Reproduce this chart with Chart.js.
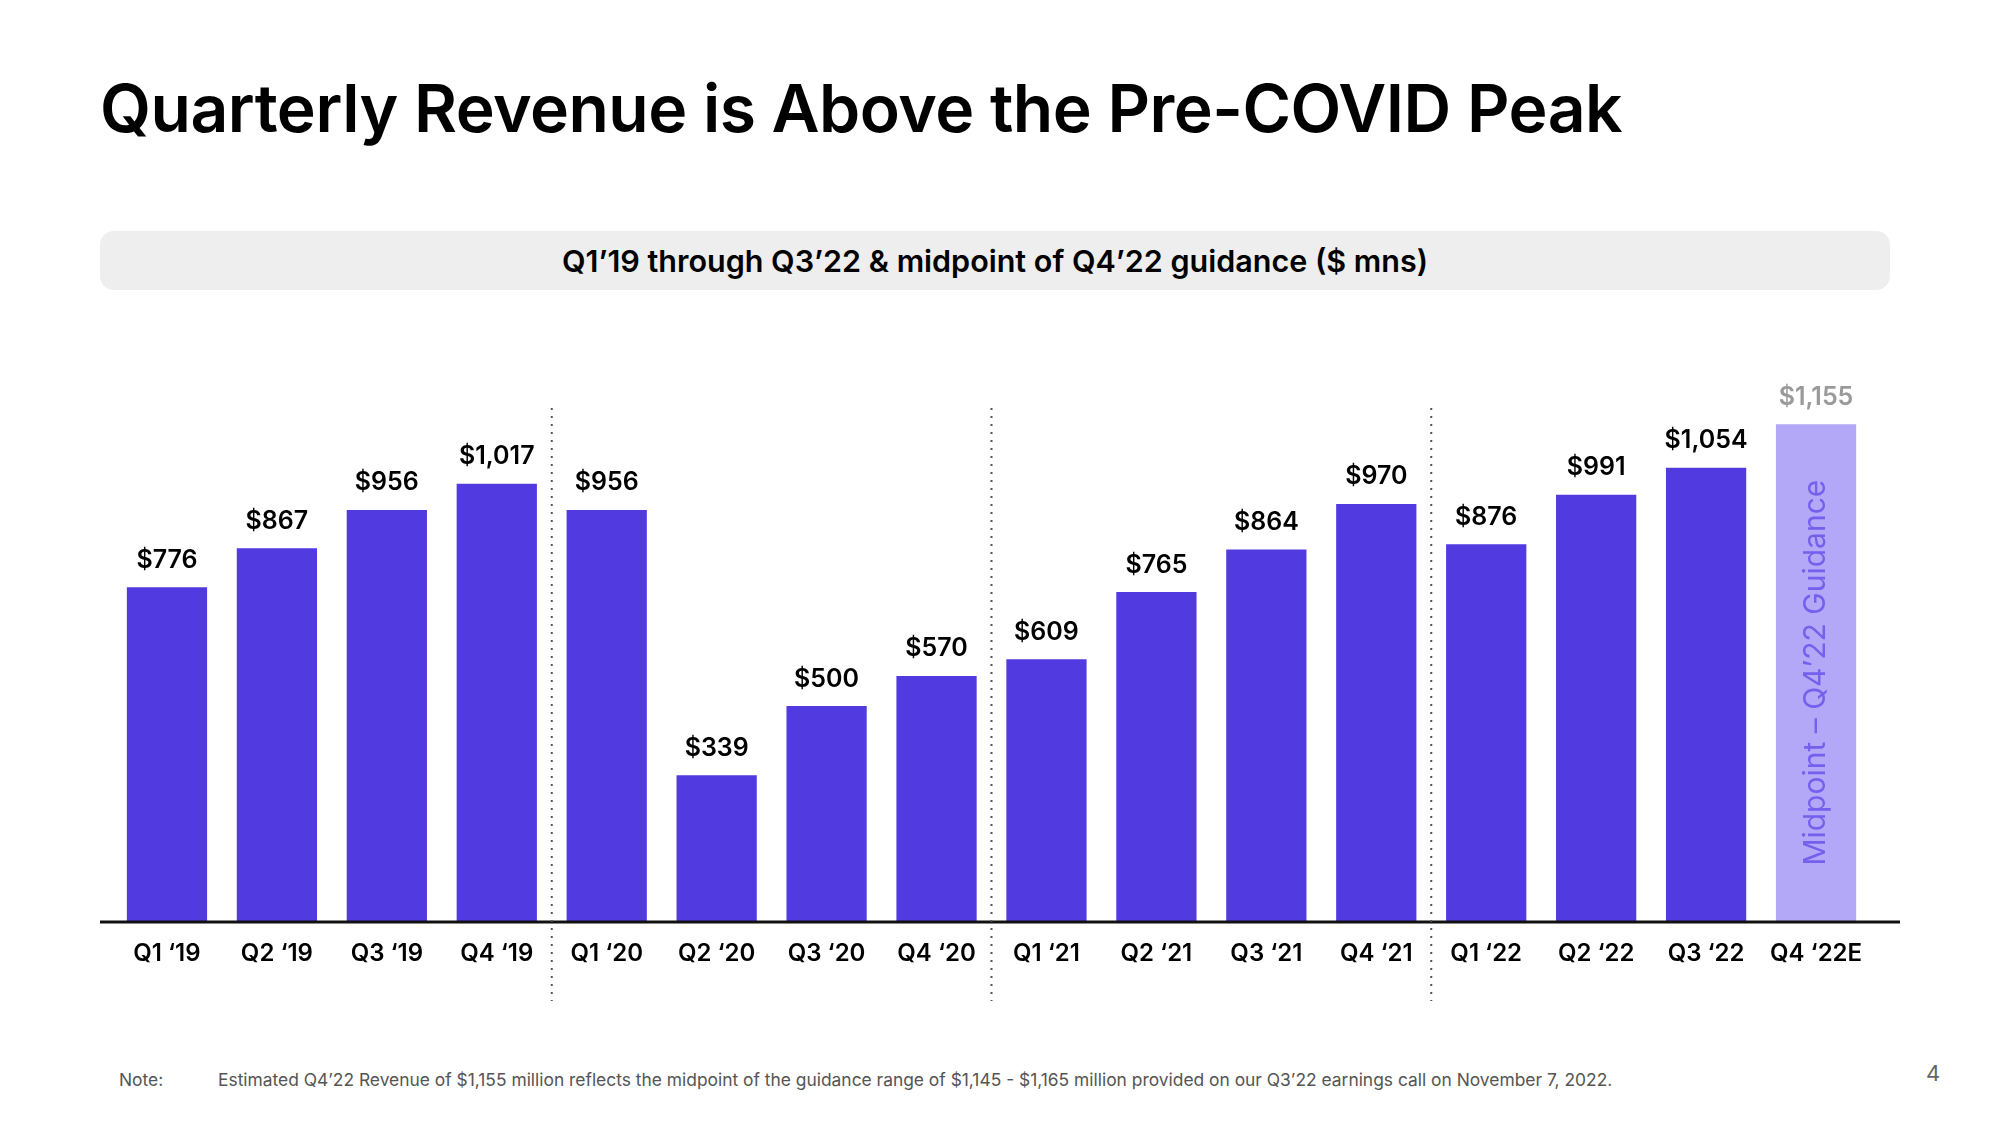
<!DOCTYPE html>
<html>
<head>
<meta charset="utf-8">
<script src="https://cdn.jsdelivr.net/npm/chart.js@4"></script>
<style>
  html, body { margin: 0; padding: 0; background: #fff; }
  body { width: 2000px; height: 1125px; position: relative; overflow: hidden; font-family: Inter, "Open Sans", sans-serif; }
  #title { position: absolute; left: 100px; top: 68px; font-size: 66px; font-weight: 600; color: #000; letter-spacing: -0.5px; white-space: nowrap; }
  #subbox { position: absolute; left: 100px; top: 231px; width: 1790px; height: 59px; background: #eeeeee; border-radius: 14px;
            display: flex; align-items: center; justify-content: center; font-size: 30.5px; font-weight: 600; color: #000; }
  #chartwrap { position: absolute; left: 0; top: 300px; width: 2000px; height: 725px; }
  #note { position: absolute; left: 119px; top: 1069px; font-size: 17.4px; color: #555; white-space: nowrap; }
  #note span { position: absolute; left: 99px; }
  #page { position: absolute; left: 1926px; top: 1060px; font-size: 22px; color: #666; }
</style>
</head>
<body>
<div id="title">Quarterly Revenue is Above the Pre-COVID Peak</div>
<div id="subbox">Q1’19 through Q3’22 &amp; midpoint of Q4’22 guidance ($ mns)</div>
<div id="chartwrap"><canvas id="revenueChart"></canvas></div>
<div id="note">Note:<span>Estimated Q4’22 Revenue of $1,155 million reflects the midpoint of the guidance range of $1,145 - $1,165 million provided on our Q3’22 earnings call on November 7, 2022.</span></div>
<div id="page">4</div>

<script>
const quarters = ["Q1 ‘19", "Q2 ‘19", "Q3 ‘19", "Q4 ‘19", "Q1 ‘20", "Q2 ‘20", "Q3 ‘20", "Q4 ‘20",
                  "Q1 ‘21", "Q2 ‘21", "Q3 ‘21", "Q4 ‘21", "Q1 ‘22", "Q2 ‘22", "Q3 ‘22", "Q4 ‘22E"];
const revenue = [776, 867, 956, 1017, 956, 339, 500, 570, 609, 765, 864, 970, 876, 991, 1054, 1155];
const valueLabels = ["$776", "$867", "$956", "$1,017", "$956", "$339", "$500", "$570",
                     "$609", "$765", "$864", "$970", "$876", "$991", "$1,054", "$1,155"];
const guidanceText = "Midpoint – Q4’22 Guidance";
const yearBreaks = [3, 7, 11]; // dotted line after these quarter indexes

const barColor = "#523ae1";
const guidanceColor = "#b3a8f8";

// value labels above bars, and the rotated guidance text inside the last bar
const barLabels = {
  id: 'barLabels',
  afterDatasetsDraw(chart) {
    const ctx = chart.ctx;
    const meta = chart.getDatasetMeta(0);
    ctx.save();
    ctx.textAlign = 'center';
    ctx.textBaseline = 'middle';
    meta.data.forEach(function(bar, i) {
      const last = i === meta.data.length - 1;
      ctx.font = '600 25px Inter, sans-serif';
      ctx.fillStyle = last ? '#9a9a9a' : '#000';
      ctx.fillText(valueLabels[i], bar.x, bar.y - 27);
      if (last) {
        ctx.save();
        ctx.translate(bar.x, (bar.y + bar.base) / 2);
        ctx.rotate(-Math.PI / 2);
        ctx.font = '400 30px Inter, sans-serif';
        ctx.fillStyle = '#7560ee';
        ctx.fillText(guidanceText, 0, 0);
        ctx.restore();
      }
    });
    ctx.restore();
  }
};

// baseline and dotted year separators
const decorations = {
  id: 'decorations',
  afterDraw(chart) {
    const ctx = chart.ctx;
    const x = chart.scales.x;
    const area = chart.chartArea;
    ctx.save();
    ctx.strokeStyle = '#111';
    ctx.lineWidth = 3;
    ctx.beginPath();
    ctx.moveTo(100, area.bottom + 1);
    ctx.lineTo(1900, area.bottom + 1);
    ctx.stroke();

    ctx.strokeStyle = '#555';
    ctx.lineWidth = 2;
    ctx.setLineDash([2, 6]);
    yearBreaks.forEach(function(i) {
      const px = (x.getPixelForValue(i) + x.getPixelForValue(i + 1)) / 2;
      ctx.beginPath();
      ctx.moveTo(px, 108);
      ctx.lineTo(px, 701);
      ctx.stroke();
    });
    ctx.restore();
  }
};

new Chart(document.getElementById('revenueChart'), {
  type: 'bar',
  data: {
    labels: quarters,
    datasets: [{
      data: revenue,
      backgroundColor: revenue.map((v, i) => i === revenue.length - 1 ? guidanceColor : barColor),
      categoryPercentage: 0.73,
      barPercentage: 1.0,
      borderWidth: 0
    }]
  },
  options: {
    responsive: true,
    maintainAspectRatio: false,
    animation: false,
    layout: { padding: { left: 112, right: 129, top: 19, bottom: 0 } },
    plugins: { legend: { display: false }, tooltip: { enabled: false } },
    scales: {
      x: {
        grid: { display: false, drawTicks: false },
        border: { display: false },
        ticks: { color: '#000', font: { family: 'Inter', size: 24, weight: '600' }, padding: 18, maxRotation: 0 },
        afterFit: function(scale) { scale.height = 104; }
      },
      y: {
        display: false,
        min: 0,
        max: 1400
      }
    }
  },
  plugins: [barLabels, decorations]
});
</script>
</body>
</html>
